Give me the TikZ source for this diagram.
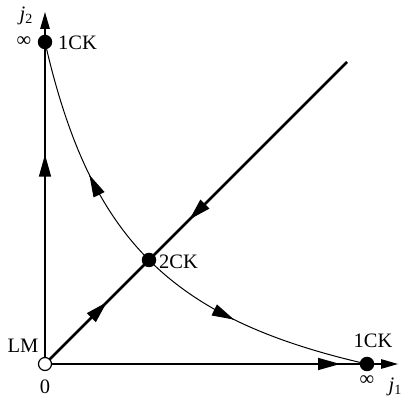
\documentclass[tikz,border=0pt]{standalone}
\usepackage{fontspec}
\setmainfont{Liberation Serif}
\usetikzlibrary{arrows.meta,decorations.markings}
\pgfdeclarelayer{bg}
\pgfsetlayers{bg,main}
\begin{document}
\begin{tikzpicture}[x=1pt,y=-1pt,
  >={Triangle[length=22pt,width=12pt]},
  lbl/.style={font=\fontsize{20.5}{24}\selectfont, inner sep=0pt},
  dot/.style={circle,fill=black,minimum size=14.5pt,inner sep=0pt},
  odot/.style={circle,draw=black,fill=white,line width=1.2pt,minimum size=13pt,inner sep=0pt},
  axisline/.style={line width=1.3pt,-{Triangle[length=17pt,width=9.5pt]}},
  diagline/.style={line width=2.6pt},
  curveline/.style={line width=1pt},
  fwd/.style={postaction={decorate},decoration={markings,mark=at position #1 with {\arrow{>}}}},
]
\useasboundingbox (0,0) rectangle (405,398);
% points
\node[odot] (O) at (45,364) {};
\node[dot] (T) at (45,42) {};
\node[dot] (R) at (367,364) {};
\node[dot] (C) at (149,260) {};
\coordinate (Ytip) at (45,12);
\coordinate (Xtip) at (398,364);
\coordinate (D) at (347,62);
\coordinate (A1b) at (89.84,175.9);
\coordinate (A1) at (89.4,175);
\coordinate (A2b) at (233.1,319.16);
\coordinate (A2) at (234,319.6);
\begin{pgfonlayer}{bg}
\draw[axisline,fwd=0.595] (O.center) -- (Ytip);
\draw[axisline,fwd=0.836] (O.center) -- (Xtip);
\draw[diagline,postaction={decorate},decoration={markings,
   mark=at position 0.205 with {\arrow{>}},
   mark=at position 0.478 with {\arrowreversed{>}}}] (O.center) -- (D);
\draw[curveline] plot[domain=104:0,samples=100] ({45+\x},{364-(199*(199/(\x+95))-95)});
\draw[curveline] plot[domain=104:0,samples=100] ({45+199*(199/(\x+95))-95},{364-\x});
\end{pgfonlayer}
\draw[curveline,->] (A1b) -- (A1);
\draw[curveline,->] (A2b) -- (A2);
% labels
\node[lbl] (j2) at (26,16) {\textit{j}\raisebox{-0.35ex}{\fontsize{14}{14}\selectfont 2}};
\node[lbl] (inf1) at (24,42) {∞};
\node[lbl,anchor=west] (ck1) at (58,43) {1CK};
\node[lbl] (lm) at (23,346) {LM};
\node[lbl] (zero) at (45,387) {0};
\node[lbl] (ck2r) at (373,341) {1CK};
\node[lbl] (inf2) at (367,381) {∞};
\node[lbl] (j1) at (395,387) {\textit{j}\raisebox{-0.35ex}{\fontsize{14}{14}\selectfont 1}};
\node[lbl,anchor=west] (ck2) at (159,262) {2CK};
\end{tikzpicture}
\end{document}
